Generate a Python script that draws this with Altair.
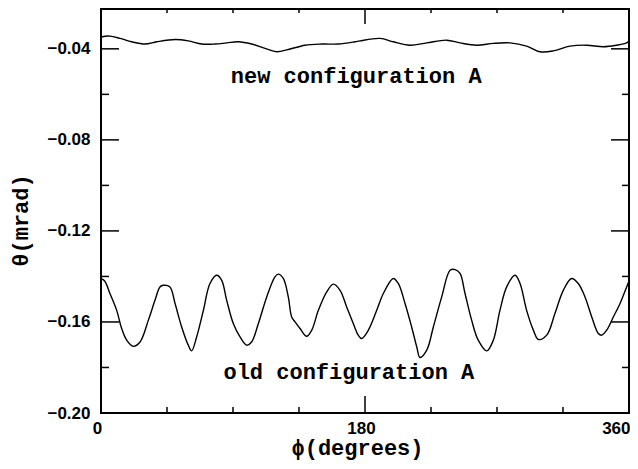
import altair as alt
import pandas as pd

# ---------------- data ----------------
old_phi = [0, 2.5, 6.1, 10.7, 14.1, 17.5, 22.0, 26.6, 32.3, 36.8, 40.2, 42.5, 47.0, 50.5,
           55.0, 59.5, 61.8, 65.2, 69.8, 74.3, 78.9, 82.3, 85.7, 90.2, 94.8, 99.3, 102.7,
           107.3, 113.0, 118.6, 120.9, 124.3, 127.7, 130.0, 132.3, 135.7, 140.2, 143.7,
           148.2, 153.9, 158.4, 163.0, 167.5, 172.0, 175.4, 177.7, 182.3, 188.0, 192.5,
           199.3, 202.7, 207.3, 211.8, 215.3, 217.5, 222.1, 226.6, 232.3, 238.0, 241.4,
           244.8, 248.2, 252.7, 257.2, 263.0, 267.5, 272.0, 276.6, 282.3, 285.7, 290.2,
           294.8, 298.2, 303.9, 309.5, 315.2, 320.9, 325.4, 330.0, 334.6, 339.1, 341.4,
           344.8, 349.3, 353.9, 358.4, 360.0]
old_theta = [-0.1410, -0.1420, -0.1475, -0.1549, -0.1629, -0.1680, -0.1707, -0.1688, -0.1592,
             -0.1505, -0.1446, -0.1439, -0.1446, -0.1519, -0.1622, -0.1702, -0.1727, -0.1666,
             -0.1549, -0.1431, -0.1395, -0.1417, -0.1505, -0.1607, -0.1666, -0.1702, -0.1688,
             -0.1607, -0.1490, -0.1402, -0.1390, -0.1409, -0.1490, -0.1578, -0.1600, -0.1629,
             -0.1663, -0.1636, -0.1549, -0.1468, -0.1434, -0.1461, -0.1534, -0.1607, -0.1658,
             -0.1673, -0.1636, -0.1549, -0.1475, -0.1409, -0.1431, -0.1519, -0.1622, -0.1710,
             -0.1756, -0.1724, -0.1622, -0.1490, -0.1373, -0.1370, -0.1387, -0.1475, -0.1592,
             -0.1680, -0.1727, -0.1680, -0.1549, -0.1446, -0.1395, -0.1431, -0.1549, -0.1636,
             -0.1677, -0.1658, -0.1563, -0.1461, -0.1409, -0.1431, -0.1490, -0.1578, -0.1651,
             -0.1658, -0.1636, -0.1578, -0.1519, -0.1446, -0.1420]

new_phi = [0, 0.9, 6.1, 13.0, 20.9, 30.0, 38.0, 50.5, 59.5, 68.7, 77.7, 85.7, 93.6, 102.7,
           111.8, 119.8, 127.7, 139.1, 150.5, 161.8, 173.2, 176.6, 190.2, 199.3, 210.7,
           222.1, 235.7, 244.8, 256.2, 267.5, 278.9, 290.2, 299.3, 308.4, 319.8, 331.2,
           342.5, 351.6, 358.4, 360.0]
new_theta = [-0.0350, -0.0347, -0.0344, -0.0354, -0.0369, -0.0379, -0.0369, -0.0359, -0.0365,
             -0.0379, -0.0379, -0.0374, -0.0369, -0.0379, -0.0398, -0.0413, -0.0403, -0.0384,
             -0.0379, -0.0379, -0.0369, -0.0365, -0.0354, -0.0369, -0.0384, -0.0374, -0.0362,
             -0.0374, -0.0384, -0.0376, -0.0374, -0.0388, -0.0413, -0.0409, -0.0388, -0.0384,
             -0.0391, -0.0384, -0.0374, -0.0366]

x_label_values = [0, 180, 360]
y_label_values = [-0.20, -0.16, -0.12, -0.08, -0.04]
x_major_ticks = [180]
x_minor_ticks = [45, 90, 135, 225, 270, 315]
y_major_ticks = [-0.04, -0.08, -0.12, -0.16]
y_minor_ticks = [-0.06, -0.10, -0.14, -0.18]

note_text = ["new configuration A", "old configuration A"]
note_phi = [174, 169]
note_theta = [-0.0551, -0.1849]

# ---------------- layout / style ----------------
W, H = 528, 404
MONO = "Liberation Mono"
SANS = "Liberation Sans"

xscale = alt.Scale(domain=[0, 360], nice=False, zero=False)
yscale = alt.Scale(domain=[-0.20, -0.0225], nice=False, zero=False)

curves = pd.concat([
    pd.DataFrame({"phi": old_phi, "theta": old_theta, "series": "old"}),
    pd.DataFrame({"phi": new_phi, "theta": new_theta, "series": "new"}),
])

x_axis = alt.Axis(values=x_label_values, format="d", ticks=False, domain=False,
                  grid=False, labelFont=SANS, labelFontSize=17, labelFontWeight="bold",
                  labelColor="black", labelPadding=7, labelFlush=False,
                  labelAlign=alt.condition("datum.value == 360", alt.value("right"), alt.value("center")),
                  labelOffset=alt.condition("datum.value == 360", alt.value(1), alt.value(-4)),
                  title="ϕ(degrees)", titleFont=MONO, titleFontSize=22, titleFontWeight="bold",
                  titleColor="black", titleX=256, titleY=41, titleAlign="center",
                  titleBaseline="alphabetic")
y_axis = alt.Axis(values=y_label_values, format=".2f", ticks=False, domain=False,
                  grid=False, labelFont=SANS, labelFontSize=17, labelFontWeight="bold",
                  labelColor="black", labelPadding=11,
                  title="θ(mrad)", titleFont=MONO, titleFontSize=22, titleFontWeight="bold",
                  titleColor="black", titleX=-81, titleY=211, titleAngle=270,
                  titleAlign="center", titleBaseline="middle")

X = alt.X("phi:Q", scale=xscale, axis=x_axis)
Y = alt.Y("theta:Q", scale=yscale, axis=y_axis)

lines = alt.Chart(curves).mark_line(color="black", strokeWidth=1.4, interpolate="catmull-rom").encode(
    x=X, y=Y, detail="series:N",
)

def xticks(vals, length, top):
    df = pd.DataFrame({"phi": vals})
    y0, y1 = (0, length) if top else (H, H - length)
    return alt.Chart(df).mark_rule(color="black", strokeWidth=1.5).encode(
        x=X, y=alt.value(y0), y2=alt.value(y1))

def yticks(vals, length, right):
    df = pd.DataFrame({"theta": vals})
    x0, x1 = (W, W - length) if right else (0, length)
    return alt.Chart(df).mark_rule(color="black", strokeWidth=1.5).encode(
        y=Y, x=alt.value(x0), x2=alt.value(x1))

tick_layers = [
    xticks(x_major_ticks, 17, False), xticks(x_minor_ticks, 6, False),
    xticks(x_major_ticks, 15, True), xticks(x_minor_ticks, 4, True),
    yticks(y_major_ticks, 18, False), yticks(y_minor_ticks, 8, False),
    yticks(y_major_ticks, 18, True), yticks(y_minor_ticks, 7, True),
]

notes = alt.Chart(pd.DataFrame({"phi": note_phi, "theta": note_theta, "label": note_text})).mark_text(
    font=MONO, fontSize=22, fontWeight="bold", color="black", align="center",
    baseline="alphabetic").encode(x=X, y=Y, text="label:N")

chart = alt.layer(lines, *tick_layers, notes).properties(
    width=W, height=H,
    autosize=alt.AutoSizeParams(type="none"),
    padding={"left": 93, "top": 1, "right": 1, "bottom": 48},
    background="white",
).configure_view(stroke="black", strokeWidth=2)

chart.save("out.html", embed_options={"renderer": "svg", "actions": False})
